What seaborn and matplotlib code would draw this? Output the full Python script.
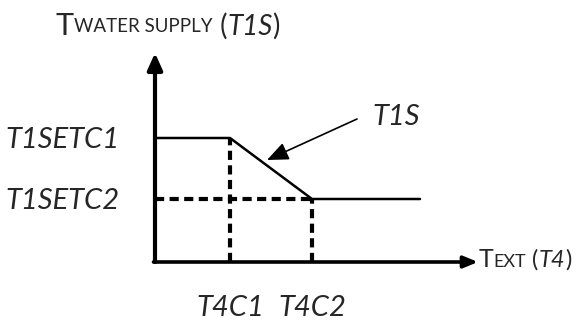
import matplotlib
matplotlib.use("Agg")
import matplotlib.pyplot as plt
import seaborn as sns
import pandas as pd

# Outdoor temperature breakpoints and the supply-water setpoint curve
t4_points = [0.0, 0.75, 1.57, 2.65]
t1s_points = [1.24, 1.24, 0.63, 0.63]
x_ticks = [0.75, 1.57]
x_tick_labels = ["T4C1", "T4C2"]
y_ticks = [1.24, 0.63]
y_tick_labels = ["T1SETC1", "T1SETC2"]
curve_label = "T1S"

sns.set_style("white")
plt.rcParams["font.family"] = ["Lato", "DejaVu Sans"]

W, H = 582, 320
fig = plt.figure(figsize=(W / 100, H / 100), dpi=100)
# axes origin sits at pixel (155, 262); 100 px per data unit
x0, y0 = 155, 262
xmax, ymax = 3.3, 2.1
ax = fig.add_axes([x0 / W, (H - y0) / H, xmax * 100 / W, ymax * 100 / H])
ax.set_xlim(0, xmax)
ax.set_ylim(0, ymax)
ax.axis("off")

df = pd.DataFrame({"T4": t4_points, "T1S": t1s_points})
sns.lineplot(data=df, x="T4", y="T1S", ax=ax, color="black", lw=1.8,
             sort=False, clip_on=False)

# dashed guides
dash = dict(color="black", lw=3, ls=(0, (2.2, 1.3)), clip_on=False)
ax.plot([x_ticks[0], x_ticks[0]], [0, y_ticks[0]], **dash)
ax.plot([x_ticks[1], x_ticks[1]], [0, y_ticks[1]], **dash)
ax.plot([0, x_ticks[1]], [y_ticks[1], y_ticks[1]], **dash)

# axis arrows
ax.annotate("", xy=(0, 2.09), xytext=(0, 0), xycoords="data",
            arrowprops=dict(arrowstyle="-|>,head_length=1.0,head_width=0.45",
                            lw=3, color="black", shrinkA=0, shrinkB=0),
            annotation_clip=False)
ax.annotate("", xy=(3.23, 0), xytext=(-0.015, 0), xycoords="data",
            arrowprops=dict(arrowstyle="-|>,head_length=0.85,head_width=0.35",
                            lw=2.6, color="black", shrinkA=0, shrinkB=0),
            annotation_clip=False)

# pointer to the curve
ax.annotate("", xy=(1.12, 1.02), xytext=(2.02, 1.43),
            arrowprops=dict(arrowstyle="-|>,head_length=1.3,head_width=0.55",
                            lw=1.2, color="black", shrinkA=0, shrinkB=0),
            annotation_clip=False)
ax.text(2.17, 1.37, curve_label, fontsize=21, style="italic",
        ha="left", va="baseline")

# tick-like labels
for xv, lab in zip(x_ticks, x_tick_labels):
    ax.text(xv, -0.54, lab, fontsize=21, style="italic",
            ha="center", va="baseline")
for yv, lab in zip(y_ticks, y_tick_labels):
    ax.text(-0.35, yv - 0.1, lab, fontsize=21, style="italic",
            ha="right", va="baseline")

fig.canvas.draw()
renderer = fig.canvas.get_renderer()


def run_text(x_px, y_px, parts):
    """Place text pieces one after another along a common baseline (pixels from top-left)."""
    x = x_px
    for s, size, italic, dy in parts:
        t = fig.text(x / W, (H - y_px - dy) / H, s, fontsize=size,
                     style="italic" if italic else "normal",
                     ha="left", va="baseline")
        x += t.get_window_extent(renderer).width
    return x


run_text(56, 35, [("T", 22, False, 0), ("WATER SUPPLY", 13.5, False, -3),
                  (" (", 20, False, 0), ("T1S", 20, True, 0), (")", 20, False, 0)])
run_text(479, 267, [("T", 18, False, 0), ("EXT", 13, False, 0),
                    (" (", 17, False, 0), ("T4", 17, True, 0), (")", 17, False, 0)])

fig.savefig("out.png", dpi=100)
